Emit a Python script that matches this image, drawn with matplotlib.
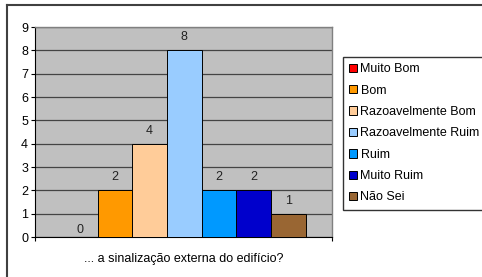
import matplotlib.pyplot as plt
from matplotlib.patches import Patch
from matplotlib.lines import Line2D

categories = ['Muito Bom', 'Bom', 'Razoavelmente Bom', 'Razoavelmente Ruim',
              'Ruim', 'Muito Ruim', 'Não Sei']
values = [0, 2, 4, 8, 2, 2, 1]
colors = ['#ff0000', '#ff9900', '#ffcc99', '#99ccff', '#0099ff', '#0000cc', '#996633']
xlabel = '... a sinalização externa do edifício?'

plt.rcParams['font.family'] = ['Liberation Sans', 'DejaVu Sans']
fs = 9

fig = plt.figure(figsize=(4.82, 2.77), dpi=100)
ax = fig.add_axes([35/482, 1 - 237/277, 297/482, 210/277])
ax.set_facecolor('#c0c0c0')

x = range(len(values))
ax.bar(x, values, width=1.0, color=colors, edgecolor='black', linewidth=0.7, zorder=3)
for i, v in enumerate(values):
    off = 0.55 if v > 0 else 0.3
    ax.text(i, v + off, str(v), ha='center', va='center', fontsize=fs, color='#222222')

ax.set_xlim(-1.3, 7.25)
ax.set_ylim(0, 9)
ax.set_yticks(range(10))
ax.yaxis.grid(True, color='#444444', linewidth=0.9, zorder=1)
ax.set_xticks([-1.3, 7.25])
ax.set_xticklabels(['', ''])
ax.tick_params(axis='both', labelsize=fs, length=3, width=0.8, colors='black')
ax.tick_params(axis='y', pad=2)
ax.set_xlabel(xlabel, fontsize=fs, labelpad=5)
for s in ['top', 'right']:
    ax.spines[s].set_color('#808080')
    ax.spines[s].set_linewidth(1.0)
ax.spines['left'].set_linewidth(0.8)
ax.spines['bottom'].set_linewidth(0.8)

handles = [Patch(facecolor=c, edgecolor='black', linewidth=0.7) for c in colors]
fig.legend(handles, categories, loc='upper left', bbox_to_anchor=(343/482, 1 - 57/277),
           fontsize=fs, frameon=True, fancybox=False, edgecolor='black',
           handlelength=0.65, handleheight=0.65, handletextpad=0.25,
           labelspacing=0.75, borderpad=0.5, borderaxespad=0)

# outer chart border (right and bottom edges fall outside the image)
fig.add_artist(Line2D([7/482, 1.0], [1 - 5/277] * 2, color='#404040', linewidth=1.5))
fig.add_artist(Line2D([7/482] * 2, [0.0, 1 - 5/277], color='#404040', linewidth=1.5))

fig.savefig('out.png', dpi=100)
